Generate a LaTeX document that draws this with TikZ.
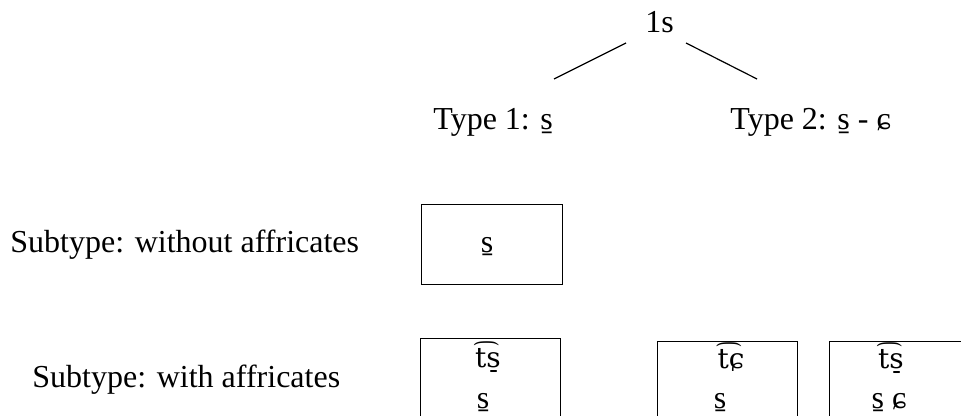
\documentclass[tikz,border=0pt]{standalone}
\usepackage{fontspec}
\setmainfont{Liberation Serif}
\newfontfamily\ipafont{DejaVu Serif}
\begin{document}
\begin{tikzpicture}[x=0.5pt,y=-0.5pt,
  lbl/.style={inner sep=0pt,font=\fontsize{16}{19}\selectfont},
  ipa/.style={inner sep=0pt,font=\fontsize{14}{17}\ipafont},
  box/.style={draw,line width=0.7pt,inner sep=0pt,anchor=north west},
  link/.style={line width=0.6pt}]
\useasboundingbox (0,0) rectangle (961,416);
\clip (0,0) rectangle (961,416);
% tree
\node[lbl,anchor=base west] (root) at (645,33) {1s};
\node[lbl,anchor=base west] (t1) at (433,130) {Type 1: s̠};
\node[lbl,anchor=base west] (t2) at (730,130) {Type 2: s̠ - ɕ};
\coordinate (l1a) at (626,43);
\coordinate (l1b) at (554,79);
\coordinate (l2a) at (686,43);
\coordinate (l2b) at (757,79);
\draw[link] (l1a) -- (l1b);
\draw[link] (l2a) -- (l2b);
% row labels
\node[lbl,anchor=base west] (sub1) at (10,252) {Subtype: without affricates};
\node[lbl,anchor=base west] (sub2) at (32,387) {Subtype: with affricates};
% boxes
\node[box,minimum width=70.5pt,minimum height=40pt] (b1) at (421,204) {};
\node[box,minimum width=70pt,minimum height=50pt] (b2) at (420,338) {};
\node[box,minimum width=70pt,minimum height=50pt] (b3) at (657,341) {};
\node[box,minimum width=80pt,minimum height=50pt] (b4) at (829,341) {};
% box contents
\node[lbl,anchor=base] (b1a) at (487,252) {s̠};
\node[ipa,anchor=base] (b2a) at (488,367) {t͡s̠};
\node[lbl,anchor=base] (b2b) at (483,408) {s̠};
\node[ipa,anchor=base] (b3a) at (731,368) {t͡ɕ};
\node[lbl,anchor=base] (b3b) at (720,408) {s̠};
\node[ipa,anchor=base] (b4a) at (891,368) {t͡s̠};
\node[lbl,anchor=base] (b4b) at (889,408) {s̠ ɕ};
\end{tikzpicture}
\end{document}
